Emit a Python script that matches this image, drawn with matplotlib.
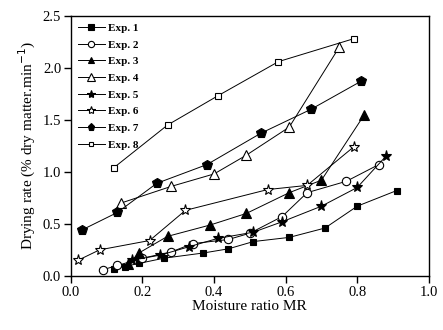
import matplotlib
matplotlib.use('Agg')
from matplotlib import pyplot as plt

plt.rcParams['font.family'] = ['Liberation Serif', 'DejaVu Serif']

# moisture ratio (x) and drying rate (y)
exp1_x = [0.12, 0.15, 0.19, 0.26, 0.37, 0.44, 0.51, 0.61, 0.71, 0.80, 0.91]
exp1_y = [0.07, 0.09, 0.12, 0.17, 0.22, 0.26, 0.33, 0.37, 0.46, 0.67, 0.82]
exp2_x = [0.09, 0.13, 0.20, 0.28, 0.34, 0.44, 0.50, 0.59, 0.66, 0.77, 0.86]
exp2_y = [0.06, 0.10, 0.17, 0.23, 0.31, 0.35, 0.41, 0.57, 0.80, 0.91, 1.07]
exp3_x = [0.16, 0.19, 0.27, 0.39, 0.49, 0.61, 0.70, 0.82]
exp3_y = [0.11, 0.22, 0.38, 0.49, 0.60, 0.80, 0.92, 1.55]
exp4_x = [0.14, 0.28, 0.40, 0.49, 0.61, 0.75]
exp4_y = [0.70, 0.86, 0.98, 1.16, 1.43, 2.20]
exp5_x = [0.17, 0.25, 0.33, 0.41, 0.51, 0.59, 0.70, 0.80, 0.88]
exp5_y = [0.15, 0.20, 0.28, 0.36, 0.42, 0.52, 0.67, 0.85, 1.15]
exp6_x = [0.02, 0.08, 0.22, 0.32, 0.55, 0.66, 0.79]
exp6_y = [0.15, 0.25, 0.34, 0.63, 0.83, 0.87, 1.24]
exp7_x = [0.03, 0.13, 0.24, 0.38, 0.53, 0.67, 0.81]
exp7_y = [0.44, 0.61, 0.89, 1.07, 1.37, 1.60, 1.87]
exp8_x = [0.12, 0.27, 0.41, 0.58, 0.79]
exp8_y = [1.04, 1.45, 1.73, 2.06, 2.28]

labels = ['Exp. 1', 'Exp. 2', 'Exp. 3', 'Exp. 4', 'Exp. 5', 'Exp. 6', 'Exp. 7', 'Exp. 8']
xs = [exp1_x, exp2_x, exp3_x, exp4_x, exp5_x, exp6_x, exp7_x, exp8_x]
ys = [exp1_y, exp2_y, exp3_y, exp4_y, exp5_y, exp6_y, exp7_y, exp8_y]
markers = ['s', 'o', '^', '^', '*', '*', 'p', 's']
filled = [True, False, True, False, True, False, True, False]
sizes = [5, 6, 6.5, 7, 8, 8, 7, 4.5]

fig = plt.figure(figsize=(4.43, 3.30), dpi=100)
ax = fig.add_axes([0.160, 0.164, 0.808, 0.788])

for x, y, lab, m, f, s in zip(xs, ys, labels, markers, filled, sizes):
    ax.plot(x, y, color='black', lw=0.7, marker=m, ms=s,
            markerfacecolor='black' if f else 'white',
            markeredgecolor='black', markeredgewidth=0.8, label=lab)

ax.set_xlim(0, 1.0)
ax.set_ylim(0, 2.5)
ax.set_xticks([0.0, 0.2, 0.4, 0.6, 0.8, 1.0])
ax.set_yticks([0.0, 0.5, 1.0, 1.5, 2.0, 2.5])
ax.tick_params(direction='out', length=5, width=1, labelsize=10.5, pad=2)
for sp in ax.spines.values():
    sp.set_linewidth(1)

ax.set_xlabel('Moisture ratio MR', fontsize=11, labelpad=1)
ax.set_ylabel('Drying rate (% dry matter.min$^{-1}$)', fontsize=11, labelpad=3)

ax.legend(loc='upper left', frameon=False, prop={'weight': 'bold', 'size': 8},
          handlelength=2.4, labelspacing=0.62, borderaxespad=0.25,
          handletextpad=0.3, markerscale=0.75)

fig.savefig('out.png', dpi=100)
